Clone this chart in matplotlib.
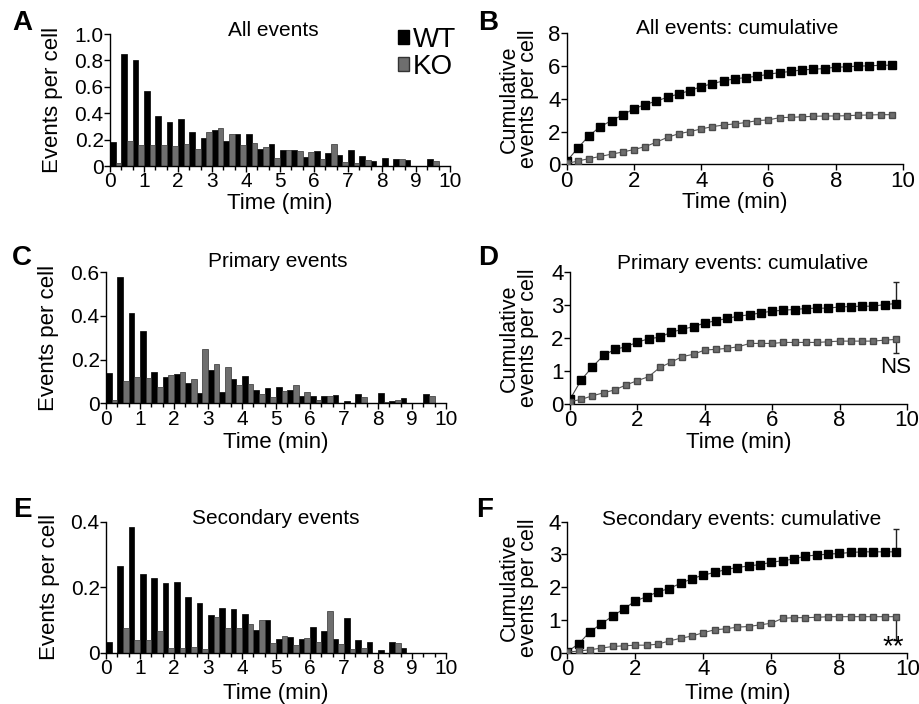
import matplotlib.pyplot as plt
import numpy as np
from matplotlib.patches import Patch

# time bins (20 s = 1/3 min), 30 bins from 0 to 10 min
time_min = np.arange(30) / 3

# A: all events per cell
all_wt = [0.18, 0.85, 0.80, 0.57, 0.38, 0.335, 0.355, 0.26, 0.21, 0.27,
          0.19, 0.245, 0.245, 0.13, 0.17, 0.12, 0.12, 0.07, 0.115, 0.10,
          0.08, 0.12, 0.075, 0.035, 0.06, 0.05, 0.045, 0.0, 0.05, 0.0]
all_ko = [0.025, 0.19, 0.16, 0.16, 0.16, 0.15, 0.165, 0.13, 0.26, 0.29,
          0.24, 0.16, 0.175, 0.145, 0.06, 0.12, 0.11, 0.105, 0.05, 0.165,
          0.03, 0.02, 0.045, 0.0, 0.0, 0.05, 0.0, 0.0, 0.04, 0.0]

# C: primary events per cell
pri_wt = [0.14, 0.58, 0.415, 0.33, 0.145, 0.12, 0.135, 0.095, 0.046, 0.153,
          0.05, 0.11, 0.127, 0.061, 0.069, 0.073, 0.061, 0.034, 0.035, 0.035,
          0.037, 0.01, 0.041, 0.0, 0.047, 0.012, 0.026, 0.0, 0.044, 0.0]
pri_ko = [0.015, 0.10, 0.12, 0.115, 0.076, 0.13, 0.145, 0.11, 0.25, 0.18,
          0.168, 0.084, 0.089, 0.041, 0.03, 0.056, 0.084, 0.05, 0.015, 0.035,
          0.0, 0.0, 0.03, 0.0, 0.005, 0.017, 0.0, 0.0, 0.034, 0.0]

# E: secondary events per cell
sec_wt = [0.034, 0.265, 0.383, 0.24, 0.227, 0.212, 0.216, 0.171, 0.153, 0.115,
          0.135, 0.132, 0.118, 0.069, 0.10, 0.043, 0.047, 0.041, 0.077, 0.065,
          0.043, 0.105, 0.039, 0.033, 0.007, 0.032, 0.013, 0.0, 0.0, 0.0]
sec_ko = [0.0, 0.074, 0.039, 0.039, 0.067, 0.013, 0.013, 0.016, 0.01, 0.11,
          0.074, 0.074, 0.088, 0.10, 0.031, 0.052, 0.023, 0.045, 0.034, 0.127,
          0.026, 0.01, 0.013, 0.0, 0.0, 0.031, 0.0, 0.0, 0.0, 0.0]

# B: cumulative, all events
cum_all_wt = [0.18, 1.0, 1.75, 2.3, 2.67, 3.02, 3.39, 3.65, 3.86, 4.1,
              4.3, 4.5, 4.75, 4.92, 5.1, 5.22, 5.3, 5.38, 5.5, 5.6,
              5.67, 5.77, 5.8, 5.85, 5.93, 5.95, 6.0, 6.01, 6.05, 6.05]
cum_all_ko = [0.05, 0.2, 0.35, 0.48, 0.62, 0.75, 0.9, 1.08, 1.35, 1.65,
              1.87, 2.0, 2.16, 2.3, 2.4, 2.47, 2.55, 2.67, 2.71, 2.85,
              2.87, 2.9, 2.93, 2.95, 2.95, 2.97, 3.0, 3.01, 3.03, 3.03]

# D: cumulative, primary events
cum_pri_wt = [0.14, 0.73, 1.13, 1.48, 1.66, 1.74, 1.88, 1.98, 2.03, 2.18,
              2.27, 2.35, 2.46, 2.53, 2.6, 2.67, 2.71, 2.77, 2.82, 2.85,
              2.87, 2.9, 2.91, 2.91, 2.95, 2.96, 2.97, 2.97, 3.02, 3.05]
cum_pri_ko = [0.07, 0.14, 0.25, 0.34, 0.43, 0.58, 0.71, 0.83, 1.11, 1.27,
              1.44, 1.51, 1.64, 1.66, 1.69, 1.74, 1.84, 1.84, 1.84, 1.87,
              1.87, 1.87, 1.87, 1.89, 1.91, 1.91, 1.91, 1.91, 1.94, 1.96]

# F: cumulative, secondary events
cum_sec_wt = [0.03, 0.27, 0.64, 0.88, 1.12, 1.34, 1.58, 1.71, 1.86, 1.96,
              2.12, 2.26, 2.37, 2.45, 2.54, 2.6, 2.65, 2.69, 2.76, 2.81,
              2.86, 2.95, 2.98, 3.01, 3.03, 3.06, 3.08, 3.08, 3.08, 3.08]
cum_sec_ko = [0.02, 0.05, 0.09, 0.14, 0.19, 0.21, 0.23, 0.23, 0.26, 0.36,
              0.44, 0.51, 0.61, 0.7, 0.73, 0.78, 0.8, 0.85, 0.9, 1.05,
              1.07, 1.07, 1.08, 1.1, 1.1, 1.1, 1.1, 1.1, 1.1, 1.1]

# SEM at the last time point (WT up, KO down)
err_pri = (0.65, 0.4)
err_sec = (0.69, 0.71)

WT_COLOR = "black"
KO_COLOR = "#6e6e6e"

plt.rcParams.update({
    "font.family": ["Liberation Sans", "DejaVu Sans"],
    "font.size": 14,
    "axes.linewidth": 1.0,
    "xtick.major.width": 1.0,
    "ytick.major.width": 1.0,
    "xtick.minor.width": 1.0,
})

W, H = 920, 704
fig = plt.figure(figsize=(W / 100, H / 100), dpi=100)


def rect(x0, x1, ytop, ybot):
    return [x0 / W, 1 - ybot / H, (x1 - x0) / W, (ybot - ytop) / H]


def base_style(ax, tick_size):
    ax.spines["top"].set_visible(False)
    ax.spines["right"].set_visible(False)
    ax.tick_params(direction="out", length=4, labelsize=tick_size, pad=0.5)
    ax.tick_params(which="minor", direction="out", length=3)


def hist_panel(ax, wt, ko, ymax, ystep, title, tpos, ylab_x):
    ax.bar(time_min, wt, width=1 / 6, align="edge", color=WT_COLOR,
           edgecolor="black", linewidth=0.5)
    ax.bar(time_min + 1 / 6, ko, width=1 / 6, align="edge", color=KO_COLOR,
           edgecolor="#333333", linewidth=0.5)
    ax.set_xlim(0, 10)
    ax.set_ylim(0, ymax)
    ax.set_xticks(range(11))
    ax.set_xticks(time_min, minor=True)
    yt = np.arange(0, ymax + 1e-9, ystep)
    ax.set_yticks(yt)
    ax.set_yticklabels(["0"] + [f"{v:.1f}" for v in yt[1:]])
    base_style(ax, 15)
    ax.text(tpos[0], tpos[1], title, transform=ax.transAxes,
            ha="center", va="center", fontsize=15)
    ax.text(ylab_x, 0.5, "Events per cell", transform=ax.transAxes,
            rotation=90, ha="center", va="center", fontsize=16)


def cum_panel(ax, wt, ko, ymax, ystep, title, tpos, ylab_x, err=None):
    ax.plot(time_min, wt, "-s", color="#444444", linewidth=0.8,
            mfc=WT_COLOR, mec="black", ms=6, zorder=3)
    ax.plot(time_min, ko, "-s", color="#555555", linewidth=0.8,
            mfc=KO_COLOR, mec="#4a4a4a", ms=5, zorder=3)
    if err is not None:
        ax.errorbar(time_min[-1], wt[-1], yerr=[[0], [err[0]]], fmt="none",
                    ecolor="#222222", elinewidth=1, capsize=2.5, zorder=2)
        ax.errorbar(time_min[-1], ko[-1], yerr=[[err[1]], [0]], fmt="none",
                    ecolor="#222222", elinewidth=1, capsize=2.5, zorder=2)
    ax.set_xlim(0, 10)
    ax.set_ylim(0, ymax)
    ax.set_xticks(range(0, 11, 2))
    ax.set_yticks(np.arange(0, ymax + 1e-9, ystep))
    base_style(ax, 16)
    ax.text(tpos[0], tpos[1], title, transform=ax.transAxes,
            ha="center", va="center", fontsize=15)
    ax.text(ylab_x, 0.5, "Cumulative\nevents per cell", transform=ax.transAxes,
            rotation=90, ha="center", va="center", fontsize=15.5,
            linespacing=0.9)


axA = fig.add_axes(rect(110, 450, 34, 166))
axB = fig.add_axes(rect(566.7, 903, 33.3, 164.3))
axC = fig.add_axes(rect(106, 446, 272.3, 403.3))
axD = fig.add_axes(rect(570, 907, 272.3, 404))
axE = fig.add_axes(rect(106, 446, 521.7, 652.7))
axF = fig.add_axes(rect(567.3, 907.3, 521.7, 652.7))

hist_panel(axA, all_wt, all_ko, 1.0, 0.2, "All events", (0.48, 1.03), -0.168)
hist_panel(axC, pri_wt, pri_ko, 0.6, 0.2, "Primary events", (0.506, 1.079), -0.17)
hist_panel(axE, sec_wt, sec_ko, 0.4, 0.2, "Secondary events", (0.5, 1.028), -0.165)

cum_panel(axB, cum_all_wt, cum_all_ko, 8, 2, "All events: cumulative",
          (0.506, 1.04), -0.142)
cum_panel(axD, cum_pri_wt, cum_pri_ko, 4, 1, "Primary events: cumulative",
          (0.513, 1.07), -0.151, err_pri)
cum_panel(axF, cum_sec_wt, cum_sec_ko, 4, 1, "Secondary events: cumulative",
          (0.514, 1.013), -0.142, err_sec)

# x labels
for ax, yf in [(axA, -0.285), (axB, -0.295), (axC, -0.303),
               (axD, -0.295), (axE, -0.308), (axF, -0.308)]:
    ax.text(0.5, yf, "Time (min)", transform=ax.transAxes,
            ha="center", va="center", fontsize=16)

# significance marks
axD.text(9.67, 1.1, "NS", ha="center", va="center", fontsize=16)
axF.text(9.6, -0.06, "**", ha="center", va="baseline", fontsize=20)

# legend
handles = [Patch(facecolor=WT_COLOR, edgecolor="black", label="WT"),
           Patch(facecolor=KO_COLOR, edgecolor="#333333", label="KO")]
fig.legend(handles=handles, loc="upper left", bbox_to_anchor=(384 / W, 1 - 13 / H),
           frameon=False, fontsize=20, handlelength=0.4, handleheight=0.4,
           handletextpad=0.15, labelspacing=0.05, borderpad=0)

# panel letters
for letter, (px, py) in {"A": (22, 23), "B": (488, 23), "C": (22, 258),
                         "D": (488, 258), "E": (22, 510), "F": (485, 510)}.items():
    fig.text(px / W, 1 - py / H, letter, ha="center", va="center",
             fontsize=20, fontweight="bold")

fig.savefig("out.png", dpi=100)
